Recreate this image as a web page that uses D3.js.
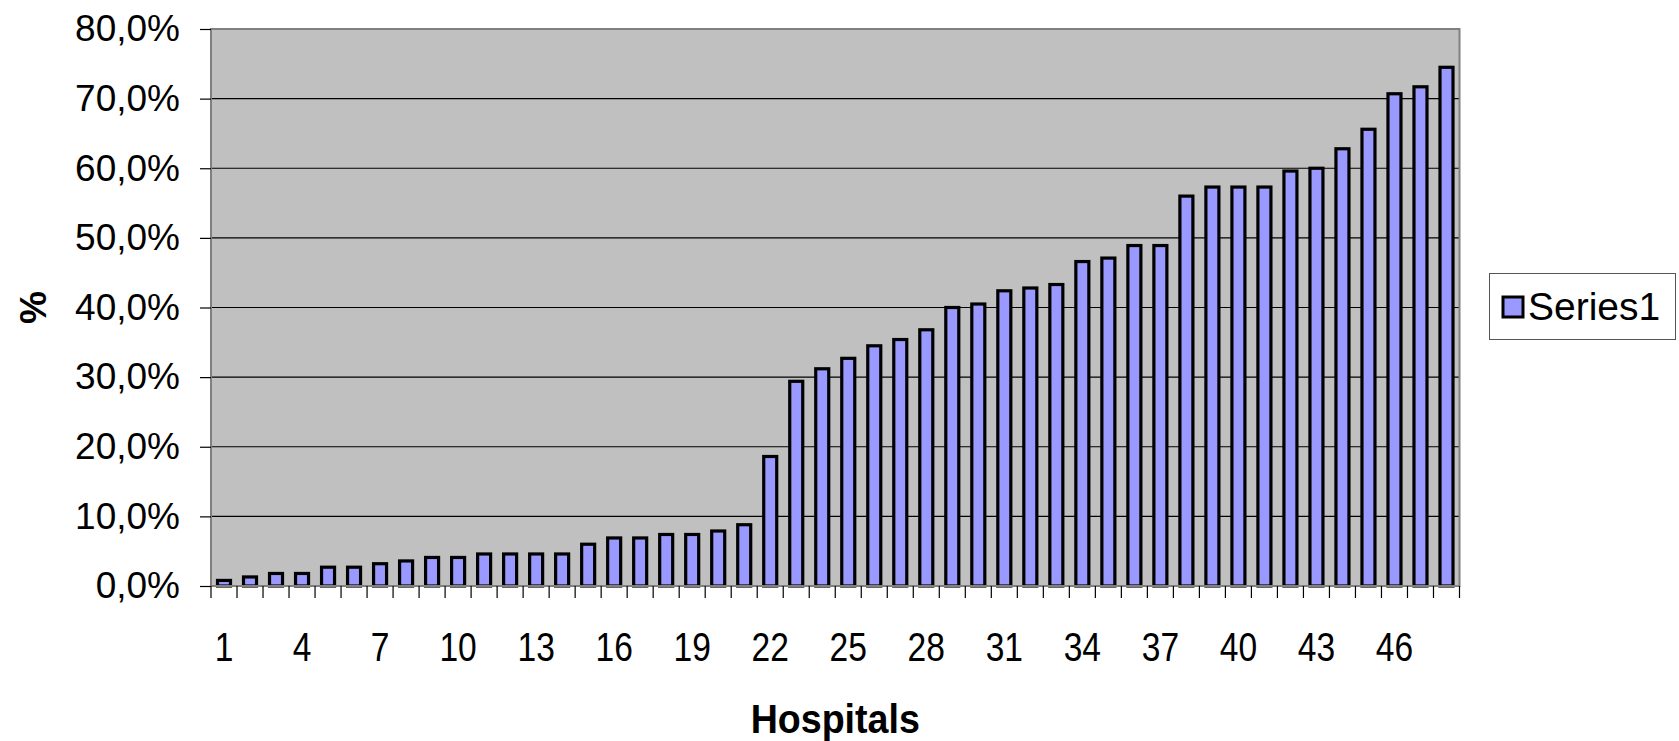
<!DOCTYPE html>
<html>
<head>
<meta charset="utf-8">
<script src="https://cdn.jsdelivr.net/npm/d3@7"></script>
<style>
  html, body { margin: 0; padding: 0; background: #ffffff; }
  svg { display: block; font-family: "Liberation Sans", Arial, sans-serif; }
</style>
</head>
<body>
<svg id="chart" width="1679" height="741"></svg>
<script>
const categories = d3.range(1, 49);
const values = [0.8, 1.3, 1.8, 1.8, 2.7, 2.7, 3.2, 3.6, 4.1, 4.1,
                4.6, 4.6, 4.6, 4.6, 6.0, 6.9, 6.9, 7.4, 7.4, 7.9,
                8.8, 18.6, 29.4, 31.2, 32.7, 34.5, 35.4, 36.8, 40.0, 40.5,
                42.4, 42.8, 43.3, 46.6, 47.1, 48.9, 48.9, 56.0, 57.3, 57.3,
                57.3, 59.6, 60.0, 62.8, 65.6, 70.7, 71.7, 74.5];
const yTicks = [0, 10, 20, 30, 40, 50, 60, 70, 80];
const xTickLabels = [1, 4, 7, 10, 13, 16, 19, 22, 25, 28, 31, 34, 37, 40, 43, 46];
const seriesName = "Series1";
const xTitle = "Hospitals";
const yTitle = "%";

const svg = d3.select("#chart");
const L = 211, R = 1459.5, T = 29, B = 586;

const x = d3.scaleBand().domain(categories).range([L, R]).paddingInner(0.5).paddingOuter(0.25);
const y = d3.scaleLinear().domain([0, 80]).range([B, T]);
const step = x.step();

// plot background
svg.append("rect").attr("x", L).attr("y", T).attr("width", R - L).attr("height", B - T)
  .attr("fill", "#c0c0c0");

// gridlines
svg.append("g").selectAll("line").data(yTicks.filter(d => d > 0 && d < 80)).join("line")
  .attr("x1", L).attr("x2", R).attr("y1", d => y(d)).attr("y2", d => y(d))
  .attr("stroke", "#000").attr("stroke-width", 1.2);

// bars
svg.append("g").selectAll("rect").data(categories).join("rect")
  .attr("x", d => x(d)).attr("width", x.bandwidth())
  .attr("y", (d, i) => y(values[i])).attr("height", (d, i) => B - y(values[i]))
  .attr("fill", "#9999ff").attr("stroke", "#000").attr("stroke-width", 3.2);

// plot border
svg.append("rect").attr("x", L).attr("y", T).attr("width", R - L).attr("height", B - T)
  .attr("fill", "none").attr("stroke", "#808080").attr("stroke-width", 2);

// y axis
const yAxis = d3.axisLeft(y).tickValues(yTicks).tickSize(11).tickPadding(20)
  .tickFormat(d => d3.format(".1f")(d).replace(".", ",") + "%");
const gy = svg.append("g").attr("transform", `translate(${L},0)`).call(yAxis);
gy.select(".domain").remove();
gy.selectAll(".tick line").attr("stroke", "#000").attr("stroke-width", 1.2);
gy.selectAll(".tick text").attr("font-size", 37).attr("fill", "#000")
  .attr("font-family", "Liberation Sans, Arial, sans-serif");

// x axis: ticks at category boundaries
const boundaries = d3.range(0, categories.length + 1).map(i => L + i * step);
svg.append("g").selectAll("line").data(boundaries).join("line")
  .attr("x1", d => d).attr("x2", d => d).attr("y1", B).attr("y2", B + 12)
  .attr("stroke", "#000").attr("stroke-width", 1.2);

const xAxis = d3.axisBottom(x).tickValues(xTickLabels).tickSize(0).tickPadding(0);
const gx = svg.append("g").attr("transform", `translate(0,${B})`).call(xAxis);
gx.select(".domain").remove();
gx.selectAll(".tick text")
  .attr("font-size", 40).attr("fill", "#000").attr("dy", 0)
  .attr("font-family", "Liberation Sans, Arial, sans-serif")
  .attr("transform", "translate(0,75) scale(0.84,1)");

// x title
svg.append("text").attr("x", (L + R) / 2).attr("y", 733).attr("text-anchor", "middle")
  .attr("font-size", 40).attr("font-weight", "bold").attr("fill", "#000")
  .attr("transform", `translate(${(L + R) / 2},0) scale(0.94,1) translate(${-(L + R) / 2},0)`)
  .text(xTitle);

// y title
svg.append("text").attr("transform", `translate(46,${(T + B) / 2}) rotate(-90)`)
  .attr("text-anchor", "middle").attr("font-size", 37).attr("font-weight", "bold").attr("fill", "#000")
  .text(yTitle);

// legend
const lg = svg.append("g");
lg.append("rect").attr("x", 1489.5).attr("y", 273.5).attr("width", 186).attr("height", 66)
  .attr("fill", "#fff").attr("stroke", "#555").attr("stroke-width", 1);
lg.append("rect").attr("x", 1503).attr("y", 297).attr("width", 20).attr("height", 20)
  .attr("fill", "#9999ff").attr("stroke", "#000").attr("stroke-width", 3);
lg.append("text").attr("x", 1528).attr("y", 320).attr("font-size", 39).attr("fill", "#000")
  .text(seriesName);
</script>
</body>
</html>
